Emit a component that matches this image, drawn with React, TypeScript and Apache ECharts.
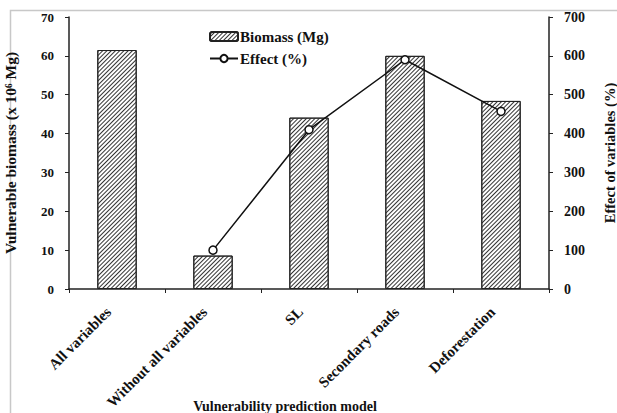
import React, { useEffect, useRef } from "react";
import * as echarts from "echarts";

const categories = [
  "All variables",
  "Without all variables",
  "SL",
  "Secondary roads",
  "Deforestation",
];
const biomass = [61.5, 8.6, 44.1, 60.0, 48.4];
const effect = [null, 100, 410, 590, 457];

const FONT = "'Liberation Serif', 'DejaVu Serif', serif";

export default function App() {
  const ref = useRef<HTMLDivElement>(null);

  useEffect(() => {
    if (!ref.current) return;
    const chart = echarts.init(ref.current, null, { renderer: "svg" });
    const textBase = { fontFamily: FONT, fontWeight: "bold" as const, color: "#111", fontSize: 13 };
    chart.setOption({
      animation: false,
      backgroundColor: "#fff",
      graphic: [
        {
          type: "rect",
          shape: { x: 10.5, y: 10.5, width: 620, height: 420 },
          style: { fill: "none", stroke: "#c8c8c8", lineWidth: 1.5 },
          silent: true,
        },
      ],
      legend: {
        orient: "vertical",
        left: 204,
        top: 24,
        itemGap: 7,
        itemWidth: 28,
        itemHeight: 9,
        textStyle: { ...textBase, fontSize: 15, padding: [0, 0, 0, -3] },
        data: [{ name: "Biomass (Mg)" }, { name: "Effect (%)" }],
      },
      grid: { left: 69, right: 68, top: 17, bottom: 124, outerBoundsMode: "none" },
      xAxis: {
        type: "category",
        data: categories,
        boundaryGap: true,
        name: "Vulnerability prediction model",
        nameLocation: "middle",
        nameGap: 110,
        nameMoveOverlap: false,
        nameTextStyle: { ...textBase, fontSize: 14, padding: [0, 48, 0, 0] },
        axisLine: { lineStyle: { color: "#222", width: 1.5 } },
        axisTick: { show: true, length: 4, inside: false, lineStyle: { color: "#222" } },
        axisLabel: {
          ...textBase,
          fontSize: 15,
          rotate: 45,
          margin: 12,
          interval: 0,
          padding: [0, 12, 0, 0],
        },
      },
      yAxis: [
        {
          type: "value",
          min: 0,
          max: 70,
          interval: 10,
          name: "Vulnerable biomass (x 10\u2076 Mg)",
          nameLocation: "middle",
          nameGap: 51,
          nameTextStyle: { ...textBase, fontSize: 15.5 },
          axisLine: { show: true, lineStyle: { color: "#222", width: 1.5 } },
          axisTick: { show: true, length: 4, lineStyle: { color: "#222" } },
          axisLabel: { ...textBase, fontSize: 13, margin: 15 },
          splitLine: { show: false },
        },
        {
          type: "value",
          min: 0,
          max: 700,
          interval: 100,
          name: "Effect of variables (%)",
          nameLocation: "middle",
          nameGap: 53,
          nameRotate: 90,
          nameTextStyle: { ...textBase, fontSize: 14.5 },
          axisLine: { show: true, lineStyle: { color: "#222", width: 1.5 } },
          axisTick: { show: true, length: 4, lineStyle: { color: "#222" } },
          axisLabel: { ...textBase, fontSize: 14, margin: 15 },
          splitLine: { show: false },
        },
      ],
      series: [
        {
          name: "Biomass (Mg)",
          type: "bar",
          data: biomass,
          barWidth: "41%",
          itemStyle: {
            color: "#fff",
            borderColor: "#222",
            borderWidth: 1,
            decal: {
              symbol: "rect",
              symbolSize: 1,
              dashArrayX: [1, 0],
              dashArrayY: [1, 2],
              rotation: -Math.PI / 4,
              color: "#333",
            },
          },
        },
        {
          name: "Effect (%)",
          type: "line",
          yAxisIndex: 1,
          data: effect,
          symbol: "circle",
          symbolSize: 8,
          showSymbol: true,
          connectNulls: false,
          lineStyle: { color: "#111", width: 1.5 },
          itemStyle: { color: "#fff", borderColor: "#111", borderWidth: 1.5 },
        },
      ],
    });
    return () => chart.dispose();
  }, []);

  return <div ref={ref} style={{ width: 617, height: 413, position: "absolute", left: 0, top: 0 }} />;
}
